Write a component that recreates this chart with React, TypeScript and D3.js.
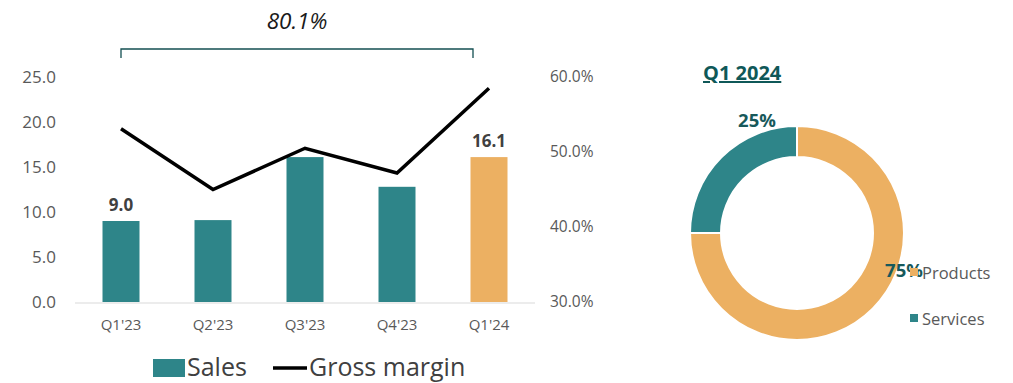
import React from "react";
import * as d3 from "d3";

const quarters = ["Q1'23", "Q2'23", "Q3'23", "Q4'23", "Q1'24"];
const sales = [9.0, 9.1, 16.1, 12.8, 16.1];
const grossMargin = [53.1, 45.0, 50.5, 47.2, 58.5];
const salesTicks = [0, 5, 10, 15, 20, 25];
const marginTicks = [30, 40, 50, 60];
const labeledBars = [0, 4];
const mixLabels = ["Products", "Services"];
const mixValues = [75, 25];
const bracketLabel = "80.1%";

const TEAL = "#2E8589";
const ORANGE = "#ECB062";
const FONT = "'Open Sans', sans-serif";

export default function App() {
  const x = d3.scaleBand<string>().domain(quarters).range([75, 535]);
  const yL = d3.scaleLinear().domain([0, 25]).range([302, 77]);
  const yR = d3.scaleLinear().domain([30, 60]).range([302, 77]);
  const barW = 37;
  const cx = (q: string) => (x(q) ?? 0) + x.bandwidth() / 2;

  const line = d3
    .line<number>()
    .x((_, i) => cx(quarters[i]))
    .y((d) => yR(d));

  const pie = d3
    .pie<number>()
    .sort(null)
    .value((d) => d)(mixValues);
  const arc = d3.arc<d3.PieArcDatum<number>>().innerRadius(76).outerRadius(107);
  const pcx = 797;
  const pcy = 233;

  const bx0 = cx(quarters[0]);
  const bx1 = cx(quarters[4]) - 16;

  return (
    <svg width={1013} height={383} style={{ position: "absolute", left: 0, top: 0, background: "#fff" }} fontFamily={FONT}>
      {/* bracket */}
      <path d={`M${bx0},58 V49 H${bx1} V58`} fill="none" stroke="#134F52" strokeWidth={1.3} />
      <text x={(bx0 + bx1) / 2} y={29} textAnchor="middle" fontSize={22.5} fontStyle="italic" fill="#1a1a1a">
        {bracketLabel}
      </text>

      {/* left axis labels */}
      {salesTicks.map((t) => (
        <text key={t} x={56} y={yL(t)} dy="0.35em" textAnchor="end" fontSize={17} fill="#595959">
          {t.toFixed(1)}
        </text>
      ))}
      {/* right axis labels */}
      {marginTicks.map((t) => (
        <text key={t} x={550} y={yR(t)} dy="0.35em" textAnchor="start" fontSize={15.5} fill="#595959">
          {t.toFixed(1)}%
        </text>
      ))}

      {/* bars */}
      {sales.map((v, i) => (
        <rect
          key={i}
          x={cx(quarters[i]) - barW / 2}
          y={yL(v)}
          width={barW}
          height={yL(0) - yL(v)}
          fill={i === quarters.length - 1 ? ORANGE : TEAL}
        />
      ))}
      <line x1={75} x2={535} y1={303} y2={303} stroke="#d9d9d9" strokeWidth={1} />

      {labeledBars.map((i) => (
        <text key={i} x={cx(quarters[i])} y={yL(sales[i]) - 10} textAnchor="middle" fontSize={17} fontWeight="bold" fill="#404040">
          {sales[i].toFixed(1)}
        </text>
      ))}

      {/* line */}
      <path d={line(grossMargin) ?? ""} fill="none" stroke="#000" strokeWidth={3.5} strokeLinejoin="miter" />

      {/* x labels */}
      {quarters.map((q) => (
        <text key={q} x={cx(q)} y={330} textAnchor="middle" fontSize={15} fill="#595959">
          {q}
        </text>
      ))}

      {/* legend */}
      <rect x={153} y={359} width={32} height={18} fill={TEAL} />
      <text x={187} y={376} fontSize={25} fill="#404040">Sales</text>
      <line x1={273} x2={307} y1={368} y2={368} stroke="#000" strokeWidth={3.5} />
      <text x={309} y={376} fontSize={25} fill="#404040">Gross margin</text>

      {/* donut */}
      <text x={703} y={80} fontSize={20} fontWeight="bold" fill="#0F5858" textDecoration="underline">
        Q1 2024
      </text>
      <g transform={`translate(${pcx},${pcy})`}>
        {pie.map((p, i) => (
          <path key={i} d={arc(p) ?? ""} fill={i === 0 ? ORANGE : TEAL} stroke="#fff" strokeWidth={2} />
        ))}
      </g>
      <text x={757} y={127} textAnchor="middle" fontSize={18.5} fontWeight="bold" fill="#17595B">
        {mixValues[1]}%
      </text>
      <text x={904} y={277} textAnchor="middle" fontSize={18.5} fontWeight="bold" fill="#17595B">
        {mixValues[0]}%
      </text>

      {mixLabels.map((l, i) => (
        <g key={l}>
          <rect x={910} y={i === 0 ? 268 : 314} width={8} height={8} fill={i === 0 ? ORANGE : TEAL} />
          <text x={922} y={i === 0 ? 279 : 325} fontSize={16.5} fill="#595959">
            {l}
          </text>
        </g>
      ))}
    </svg>
  );
}
